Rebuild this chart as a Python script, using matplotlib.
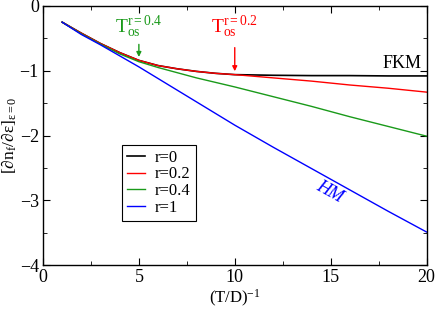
import matplotlib
matplotlib.use("Agg")
import matplotlib.pyplot as plt
from matplotlib.ticker import MultipleLocator

plt.rcParams['font.family'] = ['Liberation Serif', 'DejaVu Serif']
plt.rcParams['mathtext.fontset'] = 'custom'
plt.rcParams['mathtext.rm'] = 'Liberation Serif'
plt.rcParams['mathtext.it'] = 'Liberation Serif:italic'

x_r0 = [1, 2, 3, 4, 5, 6, 7, 8, 9, 10, 12, 14, 16, 18, 20]
y_r0 = [-0.25, -0.42, -0.58, -0.72, -0.84, -0.92, -0.97, -1.01, -1.04, -1.06,
        -1.07, -1.075, -1.075, -1.08, -1.08]
x_r02 = [1, 2, 3, 4, 5, 6, 7, 8, 9, 10, 12, 14, 16, 18, 20]
y_r02 = [-0.25, -0.42, -0.58, -0.72, -0.84, -0.92, -0.97, -1.01, -1.04, -1.06,
         -1.11, -1.16, -1.22, -1.27, -1.33]
x_r04 = [1, 2, 3, 4, 5, 6, 7, 8, 10, 12, 14, 16, 18, 20]
y_r04 = [-0.25, -0.43, -0.59, -0.74, -0.86, -0.95, -1.03, -1.11, -1.25,
         -1.40, -1.55, -1.71, -1.86, -2.01]
x_r1 = [1, 2, 3, 4, 5, 6, 7, 8, 9, 10, 12, 14, 16, 18, 20]
y_r1 = [-0.25, -0.44, -0.60, -0.77, -0.94, -1.12, -1.30, -1.48, -1.66, -1.84,
        -2.18, -2.51, -2.84, -3.17, -3.49]

fig = plt.figure(figsize=(4.36, 3.09), dpi=100)
ax = fig.add_axes([43/436, 1-265/309, (426.5-43)/436, (265-6)/309])

green = '#1a9a1a'
ax.plot(x_r0, y_r0, color='black', lw=1.2, label='r=0')
ax.plot(x_r02, y_r02, color='red', lw=1.0, label='r=0.2')
ax.plot(x_r04, y_r04, color=green, lw=1.0, label='r=0.4')
ax.plot(x_r1, y_r1, color='blue', lw=1.0, label='r=1')

ax.set_xlim(0, 20)
ax.set_ylim(-4, 0)
ax.xaxis.set_major_locator(MultipleLocator(5))
ax.xaxis.set_minor_locator(MultipleLocator(2.5))
ax.yaxis.set_major_locator(MultipleLocator(1))
ax.yaxis.set_minor_locator(MultipleLocator(0.5))
ax.tick_params(which='both', direction='in', top=True, right=True, labelsize=13, pad=3)
ax.tick_params(which='major', length=5)
ax.tick_params(which='minor', length=3)
for s in ax.spines.values():
    s.set_linewidth(1.0)

ax.set_xlabel(r'(T/D)$^{-1}$', fontsize=12, labelpad=1)
ax.set_ylabel(r'[$\partial$n$_{\rm f}$/$\partial$$\rm\varepsilon$]$_{\rm\varepsilon=0}$',
              fontsize=12.5)
ax.yaxis.set_label_coords(-0.062, 0.5)

ax.text(5, -0.32, r'T$_{\rm os}^{\rm r=0.4}$', color=green, fontsize=14, ha='center', va='center')
ax.annotate('', xy=(5, -0.83), xytext=(5, -0.55),
            arrowprops=dict(arrowstyle='-|>', color=green, lw=1.0, mutation_scale=7))
ax.text(10, -0.32, r'T$_{\rm os}^{\rm r=0.2}$', color='red', fontsize=14, ha='center', va='center')
ax.annotate('', xy=(10, -1.05), xytext=(10, -0.6),
            arrowprops=dict(arrowstyle='-|>', color='red', lw=1.0, mutation_scale=7))
ax.text(18.7, -0.89, 'FKM', color='black', fontsize=13, ha='center', va='center')
ax.text(14.95, -2.87, 'HM', color='blue', fontsize=13, ha='center', va='center',
        rotation=-29, style='italic')

leg = ax.legend(loc='upper left', bbox_to_anchor=(0.205, 0.465), fontsize=12,
                frameon=True, fancybox=False, edgecolor='black', framealpha=1,
                handlelength=1.1, handletextpad=0.6, borderpad=0.3, labelspacing=0.05,
                borderaxespad=0)
leg.get_frame().set_linewidth(0.8)

fig.savefig('out.png', dpi=100)
